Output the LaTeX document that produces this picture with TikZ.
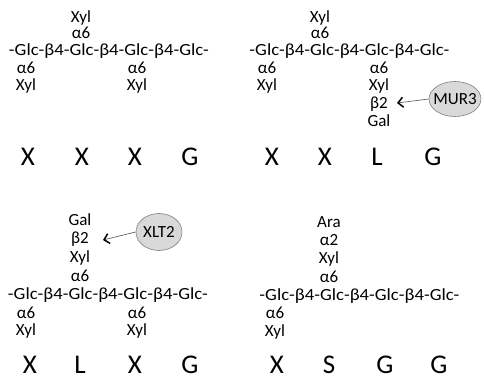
\documentclass[tikz,border=0pt]{standalone}
\usepackage{fontspec}
\setmainfont{Carlito}
\usetikzlibrary{arrows.meta,shapes.geometric}
\newcommand{\glcchain}{\scalebox{1.1}[1]{-Glc-β4-Glc-β4-Glc-β4-Glc-}}
\begin{document}
\begin{tikzpicture}[x=1pt,y=-1pt,
  lab/.style={font=\fontsize{17}{18}\selectfont, inner sep=0pt, text height=0.7em, text depth=0.2em},
  big/.style={font=\fontsize{27}{28}\selectfont, inner sep=0pt},
  enz/.style={ellipse, draw=black!50, fill=black!15, line width=0.6pt, inner sep=0pt, font=\fontsize{17}{18}\selectfont},
  enzarrow/.style={draw=black!60, line width=0.7pt, -{Straight Barb[length=5pt,width=10pt,line width=1.5pt,color=black]}}]
\useasboundingbox (0,0) rectangle (484,379);
% ---- top left: XXXG
\node[lab] (a1) at (81,20) {Xyl};
\node[lab] (a2) at (81,36) {α6};
\node[lab] (ac) at (109,53) {\glcchain};
\node[lab] (a3) at (26,71) {α6};
\node[lab] (a4) at (26,88) {Xyl};
\node[lab] (a5) at (137,71) {α6};
\node[lab] (a6) at (137,88) {Xyl};
\node[big] (aL1) at (28,157) {X};
\node[big] (aL2) at (82,157) {X};
\node[big] (aL3) at (135,157) {X};
\node[big] (aL4) at (190,157) {G};
% ---- top right: XXLG
\node[lab] (b1) at (320,20) {Xyl};
\node[lab] (b2) at (320,36) {α6};
\node[lab] (bc) at (349.5,53) {\glcchain};
\node[lab] (b3) at (267,71) {α6};
\node[lab] (b4) at (267,88) {Xyl};
\node[lab] (b5) at (379,71) {α6};
\node[lab] (b6) at (379,88) {Xyl};
\node[lab] (b7) at (379,106) {β2};
\node[lab] (b8) at (379,124) {Gal};
\node[enz, minimum width=52, minimum height=35] (mur) at (455,99) {\makebox[0pt]{MUR3}};
\coordinate (mtip) at (397,103);
\draw[enzarrow] (mur.west) -- (mtip);
\node[big] (bL1) at (272,157) {X};
\node[big] (bL2) at (325,157) {X};
\node[big] (bL3) at (377,157) {L};
\node[big] (bL4) at (433,157) {G};
% ---- bottom left: XLXG
\node[lab] (c1) at (80,223) {Gal};
\node[lab] (c2) at (80,241) {β2};
\node[lab] (c3) at (80,260) {Xyl};
\node[lab] (c4) at (80,279) {α6};
\node[lab] (cc) at (108,297) {\glcchain};
\node[lab] (c5) at (26,316) {α6};
\node[lab] (c6) at (26,333) {Xyl};
\node[lab] (c7) at (137,316) {α6};
\node[lab] (c8) at (137,333) {Xyl};
\node[enz, minimum width=46, minimum height=37] (xlt) at (159,232) {\makebox[0pt]{XLT2}};
\coordinate (xtip) at (103,240);
\draw[enzarrow] (xlt.west) -- (xtip);
\node[big] (cL1) at (30,365) {X};
\node[big] (cL2) at (80,365) {L};
\node[big] (cL3) at (135,365) {X};
\node[big] (cL4) at (190,365) {G};
% ---- bottom right: XSGG
\node[lab] (d1) at (329,225) {Ara};
\node[lab] (d2) at (329,243) {α2};
\node[lab] (d3) at (329,261) {Xyl};
\node[lab] (d4) at (329,280) {α6};
\node[lab] (dc) at (359.5,298) {\glcchain};
\node[lab] (d5) at (275,316) {α6};
\node[lab] (d6) at (275,334) {Xyl};
\node[big] (dL1) at (277,365) {X};
\node[big] (dL2) at (329,365) {S};
\node[big] (dL3) at (385,365) {G};
\node[big] (dL4) at (439,365) {G};
\end{tikzpicture}
\end{document}
